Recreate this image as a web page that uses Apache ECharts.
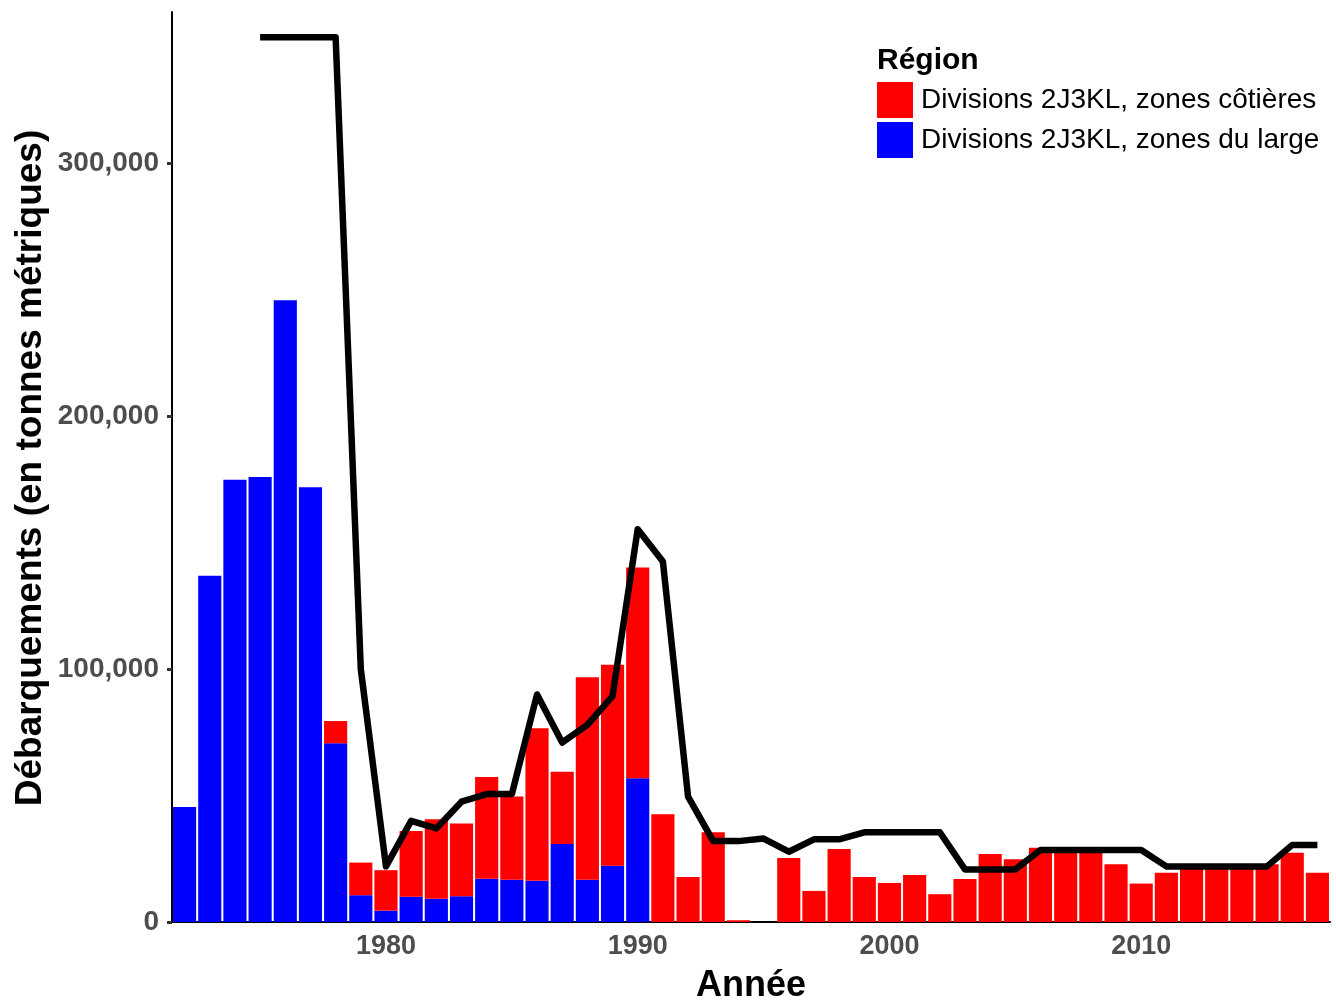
<!DOCTYPE html>
<html>
<head>
<meta charset="utf-8">
<script src="https://cdn.jsdelivr.net/npm/echarts@6/dist/echarts.min.js"></script>
<style>
html,body{margin:0;padding:0;background:#fff;}
#chart{width:1336px;height:1000px;}
</style>
</head>
<body>
<div id="chart"></div>
<script>
const years = [];
for (let y = 1972; y <= 2017; y++) years.push(String(y));

// Divisions 2J3KL, zones du large (offshore) - tonnes
const offshore = [45500,137000,175000,176000,246000,172000,70700,10600,4500,10000,
  9200,10200,17100,16700,16300,30900,16700,22300,56900,0,
  0,0,0,0,0,0,0,0,0,0,
  0,0,0,0,0,0,0,0,0,0,
  0,0,0,0,0,0];
// Divisions 2J3KL, zones côtières (coastal) - tonnes
const coastal = [0,0,0,0,0,0,8800,12900,16000,26000,
  31400,28800,40300,32900,60300,28500,80100,79500,83300,42600,
  17800,35500,700,0,25300,12300,28900,17800,15400,18600,
  11000,17000,26900,24800,29400,28800,28300,22800,15200,19500,
  21500,22000,22000,22800,27400,19500];
// TAC line - tonnes
const tac = [null,null,null,350000,350000,350000,350000,100000,22000,40000,
  37000,47600,50600,50600,90000,71000,78000,89400,155400,142600,
  49600,32000,32000,33000,27800,32700,32700,35500,35500,35500,
  35500,20800,20800,20800,28500,28500,28500,28500,28500,22000,
  22000,22000,22000,22000,30500,30500];

const yTicks = [0,100000,200000,300000];
const nameCoastal = 'Divisions 2J3KL, zones côtières';
const nameOffshore = 'Divisions 2J3KL, zones du large';

const chart = echarts.init(document.getElementById('chart'), null, {renderer:'canvas'});
const fontFam = '"Liberation Sans", Arial, sans-serif';
chart.setOption({
  animation:false,
  backgroundColor:'#ffffff',
  textStyle:{fontFamily:fontFam},
  grid:{left:172, right:6, top:12, bottom:78, containLabel:false},
  legend:{
    data:[nameCoastal, nameOffshore],
    orient:'vertical', left:877, top:82, padding:0,
    itemWidth:36, itemHeight:36, itemGap:4, icon:'rect',
    textStyle:{fontSize:28, color:'#000', fontFamily:fontFam, padding:[3,0,0,3]},
    selectedMode:false
  },
  graphic:[
    {type:'text', left:877, top:46, style:{text:'Région', font:'bold 30px "Liberation Sans", Arial, sans-serif', fill:'#000'}},
    {type:'text', x:751, y:986, style:{text:'Année', font:'bold 36px "Liberation Sans", Arial, sans-serif', fill:'#000', textAlign:'center', textVerticalAlign:'middle'}},
    {type:'text', x:31, y:468, rotation:Math.PI/2, style:{text:'Débarquements (en tonnes métriques)', font:'bold 37px "Liberation Sans", Arial, sans-serif', fill:'#000', textAlign:'center', textVerticalAlign:'middle'}}
  ],
  xAxis:{
    type:'category', data:years, boundaryGap:true,
    axisLine:{lineStyle:{color:'#000', width:2}},
    axisTick:{alignWithLabel:true, interval:(i,v)=>Number(v)%10===0, length:6, lineStyle:{color:'#333', width:3}},
    axisLabel:{interval:(i,v)=>Number(v)%10===0, fontSize:27, fontWeight:'bold', color:'#4d4d4d', margin:11},
    splitLine:{show:false}
  },
  yAxis:{
    type:'value', min:0, max:360000,
    axisLine:{show:true, lineStyle:{color:'#000', width:2}},
    axisTick:{show:true, customValues:yTicks, length:5, lineStyle:{color:'#333', width:3}},
    axisLabel:{customValues:yTicks, fontSize:28, fontWeight:'bold', color:'#4d4d4d', margin:13,
      formatter:v=>v.toLocaleString('en-US')},
    splitLine:{show:false}
  },
  series:[
    {name:nameOffshore, type:'bar', stack:'t', data:offshore, barCategoryGap:'8%', itemStyle:{color:'#0000ff'}},
    {name:nameCoastal, type:'bar', stack:'t', data:coastal, itemStyle:{color:'#ff0000'}},
    {name:'TAC', type:'line', data:tac, showSymbol:false, symbol:'none', z:5,
      lineStyle:{color:'#000', width:6.5, cap:'butt', join:'round'}, connectNulls:false}
  ]
});
</script>
</body>
</html>
